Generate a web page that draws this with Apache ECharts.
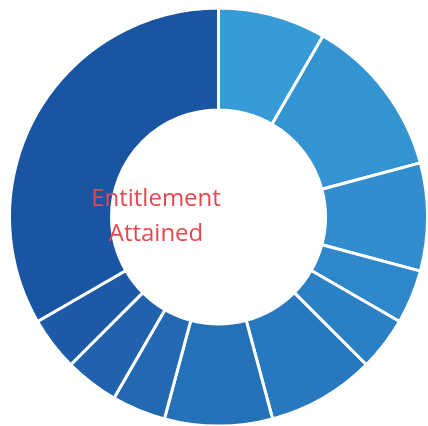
<!DOCTYPE html>
<html>
<head>
<meta charset="utf-8">
<script src="https://cdn.jsdelivr.net/npm/echarts@6/dist/echarts.min.js"></script>
<style>
  html, body { margin: 0; padding: 0; background: #fff; }
  #chart { width: 428px; height: 426px; }
</style>
</head>
<body>
<div id="chart"></div>
<script>
// slice values, clockwise from 12 o'clock
const names = ["A", "B", "C", "D", "E", "F", "G", "H", "I", "J", "K"];
const values = [2, 3, 2, 1, 1, 2, 2, 1, 1, 1, 8];
const colors = [
  "#379bd7", "#3494d2", "#318dcd", "#2e87c9", "#2b80c4",
  "#2878bf", "#2571b8", "#2369b2", "#2062ac", "#1d5ba8", "#1a55a4"
];
const centerLines = ["Entitlement", "Attained"];

const chart = echarts.init(document.getElementById("chart"));
chart.setOption({
  animation: false,
  graphic: centerLines.map((t, i) => ({
    type: "text",
    x: 156,
    y: 199 + i * 35,
    z: 100,
    style: {
      text: t,
      fill: "#e8474f",
      font: "24px 'Open Sans'",
      letterSpacing: 1.5,
      align: "center",
      verticalAlign: "middle"
    }
  })),
  series: [{
    type: "pie",
    center: [218.5, 217],
    radius: [107, 209],
    startAngle: 90,
    clockwise: true,
    label: { show: false },
    labelLine: { show: false },
    itemStyle: { borderColor: "#fff", borderWidth: 3 },
    emphasis: { disabled: true },
    data: names.map((n, i) => ({
      name: n,
      value: values[i],
      itemStyle: { color: colors[i] }
    }))
  }]
});
</script>
</body>
</html>
